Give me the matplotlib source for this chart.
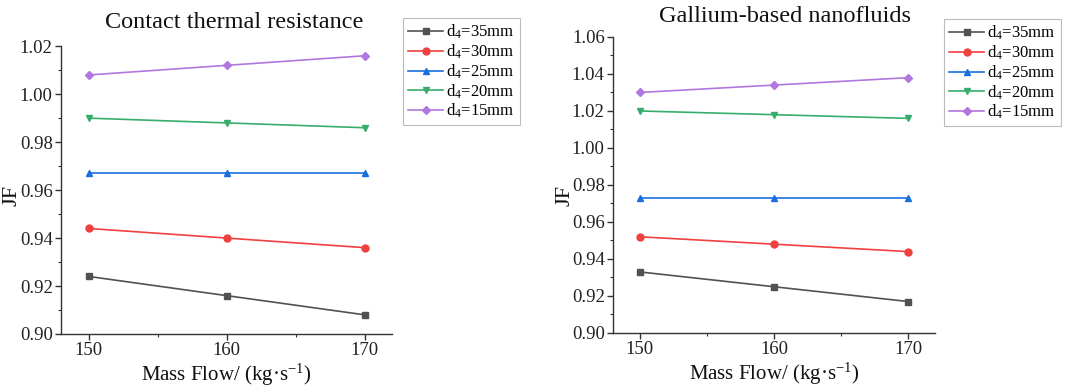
import matplotlib
matplotlib.use("Agg")
import matplotlib.pyplot as plt
from matplotlib.ticker import MultipleLocator, FormatStrFormatter

plt.rcParams['font.family'] = ['Liberation Serif', 'DejaVu Serif']
plt.rcParams['mathtext.fontset'] = 'custom'
plt.rcParams['mathtext.rm'] = 'Liberation Serif'
plt.rcParams['mathtext.it'] = 'Liberation Serif:italic'

mass_flow = [150, 160, 170]
labels = ["d$_4$=35mm", "d$_4$=30mm", "d$_4$=25mm", "d$_4$=20mm", "d$_4$=15mm"]
colors = ["#515151", "#F14040", "#1A6FDF", "#37AD6B", "#B177DE"]
markers = ["s", "o", "^", "v", "D"]

contact_35 = [0.924, 0.916, 0.908]
contact_30 = [0.944, 0.940, 0.936]
contact_25 = [0.967, 0.967, 0.967]
contact_20 = [0.990, 0.988, 0.986]
contact_15 = [1.008, 1.012, 1.016]

gallium_35 = [0.933, 0.925, 0.917]
gallium_30 = [0.952, 0.948, 0.944]
gallium_25 = [0.973, 0.973, 0.973]
gallium_20 = [1.020, 1.018, 1.016]
gallium_15 = [1.030, 1.034, 1.038]

fig = plt.figure(figsize=(10.65, 3.9), dpi=100)
ax1 = fig.add_axes([0.0573, 0.1436, 0.3109, 0.738])
ax2 = fig.add_axes([0.5756, 0.1462, 0.3023, 0.759])

panels = [
    (ax1, [contact_35, contact_30, contact_25, contact_20, contact_15],
     "Contact thermal resistance", (0.90, 1.02), (403, 18), 0.523, 12, 13),
    (ax2, [gallium_35, gallium_30, gallium_25, gallium_20, gallium_15],
     "Gallium-based nanofluids", (0.90, 1.06), (944, 19), 0.534, 565, 11),
]

W, H = 1065, 390
for ax, series, title, ylim, lpos, tx, jfx, tpad in panels:
    for vals, lab, c, m in zip(series, labels, colors, markers):
        ms = 5 if m != "D" else 4.5
        ax.plot(mass_flow, vals, color=c, marker=m, markersize=ms, lw=1.2, label=lab)
    ax.set_xlim(148, 172)
    ax.set_ylim(*ylim)
    ax.xaxis.set_major_locator(MultipleLocator(10))
    ax.xaxis.set_minor_locator(MultipleLocator(5))
    ax.yaxis.set_major_locator(MultipleLocator(0.02))
    ax.yaxis.set_minor_locator(MultipleLocator(0.01))
    ax.yaxis.set_major_formatter(FormatStrFormatter('%.2f'))
    for s in ['top', 'right']:
        ax.spines[s].set_visible(False)
    for s in ['left', 'bottom']:
        ax.spines[s].set_color('#333333')
        ax.spines[s].set_linewidth(1.0)
    ax.tick_params(which='major', direction='out', length=4, width=1, labelsize=13.5, pad=2,
                   colors='#333333', labelcolor='#222222')
    ax.tick_params(which='minor', direction='out', length=2.5, width=0.8, colors='#333333')
    ax.set_title(title, fontsize=17.5, x=tx, pad=tpad, color='#111111')
    ax.set_xlabel("Mass Flow/ (kg·s$^{-1}$)", fontsize=15, labelpad=2, color='#111111')
    ax.set_ylabel("JF", fontsize=16, color='#111111')
    ax.yaxis.set_label_coords(jfx / W, 0.5, transform=fig.transFigure)
    ax.yaxis.label.set_verticalalignment('center')
    ax.yaxis.label.set_y(0.5)
    x0, y0 = lpos
    leg = ax.legend(loc='upper left', bbox_to_anchor=(x0 / W, 1 - y0 / H),
                    bbox_transform=fig.transFigure,
                    fontsize=12, frameon=True, fancybox=False, edgecolor='#aaaaaa',
                    handlelength=2.1, handletextpad=0.2, borderpad=0.3, labelspacing=0.08,
                    borderaxespad=0)
    leg.get_frame().set_linewidth(0.8)

fig.savefig("out.png", dpi=100)
